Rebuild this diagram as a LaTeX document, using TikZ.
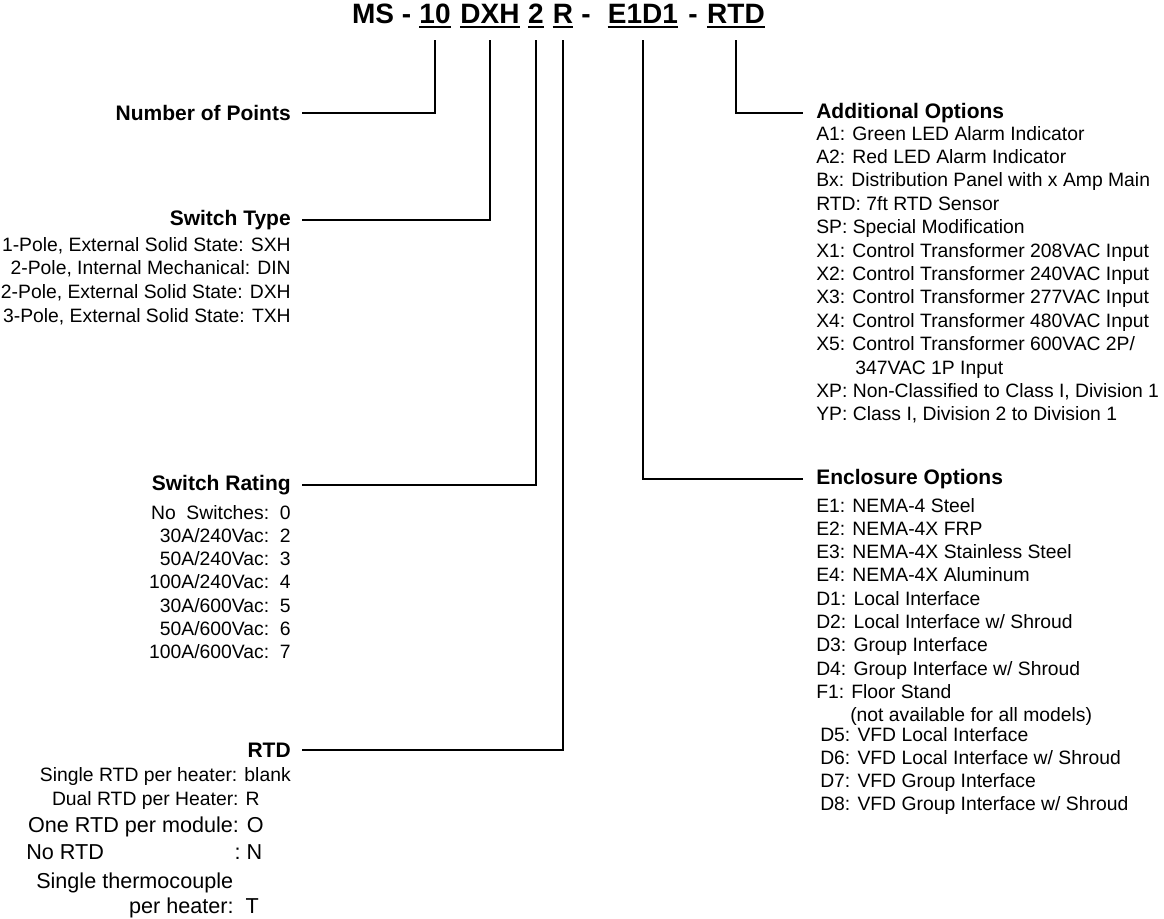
\documentclass[tikz,border=0pt]{standalone}
\usepackage{fontspec}
\setmainfont{Liberation Sans}
\begin{document}
\begin{tikzpicture}[x=0.75pt,y=-0.75pt,
  conn/.style={line width=1.5pt},
  uline/.style={line width=1.5pt},
  ttl/.style={font=\fontsize{21}{25}\selectfont\bfseries, inner sep=0pt, anchor=base},
  hdl/.style={font=\fontsize{15.75}{19}\selectfont\bfseries, inner ysep=0pt},
  hdleft/.style={hdl, anchor=east, inner xsep=8.25pt},
  hdright/.style={hdl, anchor=west, inner xsep=9.75pt},
  itm/.style={font=\fontsize{14.5}{17.5}\selectfont, inner sep=0pt},
  big/.style={font=\fontsize{16.2}{19}\selectfont, inner sep=0pt}]
\useasboundingbox (0,0) rectangle (1164,918);

% title
\node[ttl, anchor=base east] (tMS) at (411.5,23) {MS -};
\node[ttl] (t10) at (435,23) {10};
\node[ttl] (tDXH) at (490,23) {DXH};
\node[ttl] (t2) at (536,23) {2};
\node[ttl] (tR) at (563,23) {R};
\node[ttl] (td1) at (586,23) {-};
\node[ttl] (tE) at (643,23) {E1D1};
\node[ttl] (td2) at (693,23) {-};
\node[ttl] (tRTD) at (736,23) {RTD};
\foreach \n in {t10,tDXH,t2,tR,tE,tRTD}
  \draw[uline] ([yshift=-3pt]\n.base west) -- ([yshift=-3pt]\n.base east);

% left headings
\node[hdleft] (nop) at (302,113) {Number of Points};
\node[hdleft] (swt) at (302,220) {Switch Type};
\node[hdleft] (swr) at (302,485) {Switch Rating};
\node[hdleft] (rtd) at (302,750) {RTD};
% right headings
\node[hdright] (ao) at (803,113) {Additional Options};
\node[hdright] (eo) at (803,479) {Enclosure Options};

% connectors
\draw[conn] ([yshift=-12.75pt]t10.base) |- (nop.east);
\draw[conn] ([yshift=-12.75pt]tDXH.base) |- (swt.east);
\draw[conn] ([yshift=-12.75pt]t2.base) |- (swr.east);
\draw[conn] ([yshift=-12.75pt]tR.base) |- (rtd.east);
\draw[conn] ([yshift=-12.75pt]tE.base) |- (eo.west);
\draw[conn] ([yshift=-12.75pt]tRTD.base) |- (ao.west);

% switch type items
\foreach \t [count=\i from 0] in {{1-Pole, External Solid State: SXH},{2-Pole, Internal Mechanical: DIN},{2-Pole, External Solid State: DXH},{3-Pole, External Solid State: TXH}}
  \node[itm, anchor=base east] (st\i) at (291,{251+\i*23.7}) {\t};

% switch rating items
\foreach \t [count=\i from 0] in {{No\ \ Switches:\ \ 0},{30A/240Vac:\ \ 2},{50A/240Vac:\ \ 3},{100A/240Vac:\ \ 4},{30A/600Vac:\ \ 5},{50A/600Vac:\ \ 6},{100A/600Vac:\ \ 7}}
  \node[itm, anchor=base east] (sr\i) at (291,{519+\i*23.3}) {\t};

% RTD items
\node[itm, anchor=base east] (r1) at (291,781) {Single RTD per heater: blank};
\node[itm, anchor=base east] (r2) at (260,805) {Dual RTD per Heater: R};
\node[big, anchor=base east] (r3) at (264,832) {One RTD per module: O};
\node[big, anchor=base west] (r4) at (26,859) {No RTD\hspace{98pt}: N};
\node[big, anchor=base west] (r5) at (36,888) {Single thermocouple};
\node[big, anchor=base east] (r6) at (259,913) {per heater:\ \ T};

% additional options items
\foreach \t [count=\i from 0] in {{A1: Green LED Alarm Indicator},{A2: Red LED Alarm Indicator},{Bx: Distribution Panel with x Amp Main},{RTD: 7ft RTD Sensor},{SP: Special Modification},{X1: Control Transformer 208VAC Input},{X2: Control Transformer 240VAC Input},{X3: Control Transformer 277VAC Input},{X4: Control Transformer 480VAC Input},{X5: Control Transformer 600VAC 2P/},{\hspace*{29.25pt}347VAC 1P Input},{XP: Non-Classified to Class I, Division 1},{YP: Class I, Division 2 to Division 1}}
  \node[itm, anchor=base west] (ao\i) at (816,{140+\i*23.4}) {\t};

% enclosure options items
\foreach \t [count=\i from 0] in {{E1: NEMA-4 Steel},{E2: NEMA-4X FRP},{E3: NEMA-4X Stainless Steel},{E4: NEMA-4X Aluminum},{D1: Local Interface},{D2: Local Interface w/ Shroud},{D3: Group Interface},{D4: Group Interface w/ Shroud},{F1: Floor Stand}}
  \node[itm, anchor=base west] (eo\i) at (816,{512+\i*23.3}) {\t};
\node[itm, anchor=base west] (eonote) at (850,721.7) {(not available for all models)};
\foreach \t [count=\i from 0] in {{D5: VFD Local Interface},{D6: VFD Local Interface w/ Shroud},{D7: VFD Group Interface},{D8: VFD Group Interface w/ Shroud}}
  \node[itm, anchor=base west] (ed\i) at (820,{741+\i*23.3}) {\t};
\end{tikzpicture}
\end{document}
